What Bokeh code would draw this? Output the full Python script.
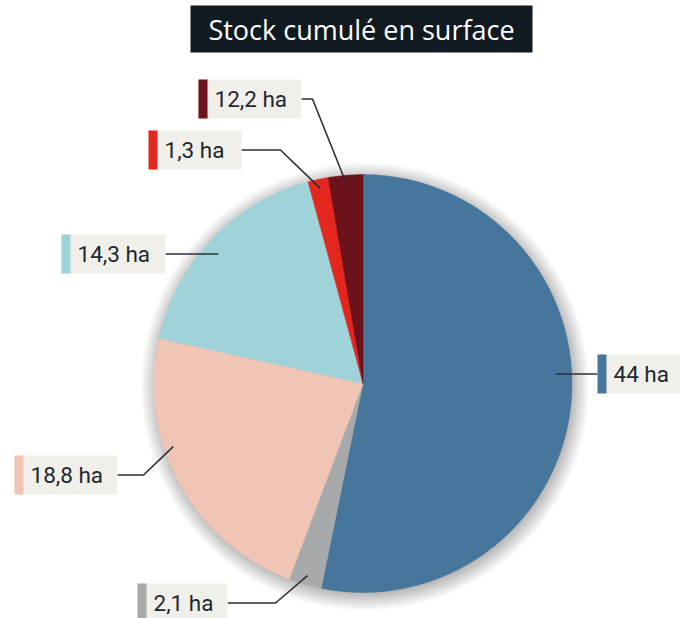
import math
from bokeh.plotting import figure
from bokeh.models import Range1d, ColumnDataSource
from bokeh.core.properties import value
from bokeh.embed import file_html
from bokeh.resources import INLINE

# ---- data ----
title_text = "Stock cumulé en surface"
values = [44, 2.1, 18.8, 14.3, 1.3, 2.2]
labels = ["44 ha", "2,1 ha", "18,8 ha", "14,3 ha", "1,3 ha", "12,2 ha"]
colors = ["#46769b", "#a7a9ab", "#f1c5b5", "#9fd3d9", "#e3261e", "#6b121a"]

# ---- layout (pixel space, y measured from top) ----
W, H = 680, 618
CX, CY, R = 362.5, 383, 209
box_left = [597, 137, 14, 61, 148, 198]
box_top = [354, 583, 455, 234, 130, 79]
box_width = [90, 90, 103, 104, 93, 103]
box_h = 39
bar_w = 9
elbow_x = [None, 275, 143, None, 280, 312]
anchor_shift = [-9, 0, 10, -1.5, 0, 0]
anchor_r = [193, 200, 200, 195, 200, 201]


def Y(py):
    return H - py


p = figure(width=W, height=H, x_range=Range1d(0, W), y_range=Range1d(0, H),
           output_backend="svg", toolbar_location=None, min_border=0,
           x_axis_location=None, y_axis_location=None)
p.xgrid.visible = False
p.ygrid.visible = False
p.outline_line_color = None
p.background_fill_color = "white"
p.border_fill_color = "white"

# soft shadow
for k in range(22):
    p.circle(x=CX + 2, y=Y(CY + 3), radius=R - 6 + k, fill_color="black",
             fill_alpha=0.016, line_color=None)

# wedges
total = sum(values)
starts, ends, mids = [], [], []
cum = 0.0
for v in values:
    a0 = math.pi / 2 - 2 * math.pi * cum / total
    mids.append(360.0 * (cum + v / 2) / total)
    cum += v
    a1 = math.pi / 2 - 2 * math.pi * cum / total
    starts.append(a0)
    ends.append(a1)
src = ColumnDataSource(dict(start=starts, end=ends, color=colors, value=values))
p.wedge(x=CX, y=Y(CY), radius=R, start_angle="start", end_angle="end",
        direction="clock", fill_color="color", line_color="color",
        line_width=0.5, source=src)

# leader lines, boxes, texts
xs, ys = [], []
bq = dict(left=[], right=[], top=[], bottom=[])
barq = dict(left=[], right=[], top=[], bottom=[], color=[])
tx, ty = [], []
for i in range(len(values)):
    th = math.radians(mids[i] + anchor_shift[i])
    ax = CX + anchor_r[i] * math.sin(th)
    ay = CY - anchor_r[i] * math.cos(th)
    cy = box_top[i] + box_h / 2
    if ax > box_left[i]:
        ex = box_left[i] + box_width[i]
    else:
        ex = box_left[i]
    lx = [ax]
    ly = [ay]
    if elbow_x[i] is not None:
        lx.append(elbow_x[i])
        ly.append(cy)
    else:
        ly[0] = cy
    lx.append(ex)
    ly.append(cy)
    xs.append(lx)
    ys.append([Y(v) for v in ly])
    bq["left"].append(box_left[i])
    bq["right"].append(box_left[i] + box_width[i])
    bq["top"].append(Y(box_top[i]))
    bq["bottom"].append(Y(box_top[i] + box_h))
    barq["left"].append(box_left[i])
    barq["right"].append(box_left[i] + bar_w)
    barq["top"].append(Y(box_top[i]))
    barq["bottom"].append(Y(box_top[i] + box_h))
    barq["color"].append(colors[i])
    tx.append(box_left[i] + 16)
    ty.append(Y(cy))

p.multi_line(xs=xs, ys=ys, line_color="#2b3036", line_width=1.6)
p.quad(source=ColumnDataSource(bq), left="left", right="right", top="top",
       bottom="bottom", fill_color="#f0efea", line_color=None)
p.quad(source=ColumnDataSource(barq), left="left", right="right", top="top",
       bottom="bottom", fill_color="color", line_color=None)
p.text(x=tx, y=ty, text=labels, text_font=value("Roboto"),
       text_font_size=value("22.5px"), text_color="#1e2830",
       text_baseline="middle", text_align="left")

# title
p.quad(left=190, right=532, top=Y(5), bottom=Y(52), fill_color="#121a21",
       line_color=None)
p.text(x=[361], y=[Y(29)], text=[title_text], text_font=value("Open Sans"),
       text_font_size=value("27px"), text_color="white",
       text_baseline="middle", text_align="center")

open("out.html", "w").write(file_html(p, INLINE))
